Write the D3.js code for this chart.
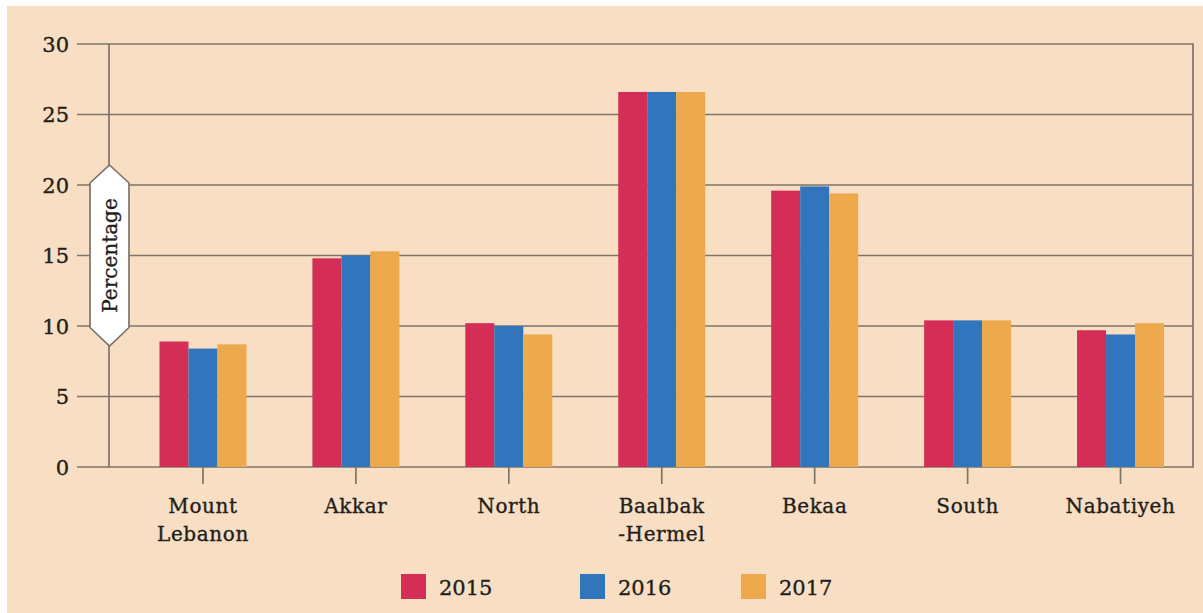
<!DOCTYPE html>
<html>
<head>
<meta charset="utf-8">
<script src="https://cdn.jsdelivr.net/npm/d3@7"></script>
<style>
  html, body { margin: 0; padding: 0; background: #ffffff; }
  svg { display: block; }
  text { font-family: "DejaVu Serif", "Liberation Serif", serif; fill: #221e1b; stroke: #221e1b; stroke-width: 0.35px; }
</style>
</head>
<body>
<svg id="chart" width="1203" height="613"></svg>
<script>
// Share by region, 2015–2017 (percent)
const regions = [["Mount", "Lebanon"], ["Akkar"], ["North"], ["Baalbak", "-Hermel"], ["Bekaa"], ["South"], ["Nabatiyeh"]];
const years = ["2015", "2016", "2017"];
const values2015 = [8.9, 14.8, 10.2, 26.6, 19.6, 10.4, 9.7];
const values2016 = [8.4, 15.0, 10.0, 26.6, 19.9, 10.4, 9.4];
const values2017 = [8.7, 15.3, 9.4, 26.6, 19.4, 10.4, 10.2];
const yTicks = [0, 5, 10, 15, 20, 25, 30];
const colors = ["#d42e57", "#3176bd", "#eda94b"];

const series = [values2015, values2016, values2017];
const keys = regions.map(r => r.join(" "));

const svg = d3.select("#chart");

// panel background
svg.append("rect")
  .attr("x", 7).attr("y", 6).attr("width", 1196).attr("height", 607)
  .attr("fill", "#f8dfc4");

const y = d3.scaleLinear().domain([0, 30]).range([467, 44]);
const x0 = d3.scaleBand().domain(keys).range([126.5, 1197]).padding(0);
const x1 = d3.scaleBand().domain(years).range([0, 87]).padding(0);
const groupOffset = (x0.bandwidth() - 87) / 2;

const gridColor = "#7f7469";

// horizontal grid lines with left tick stubs
svg.append("g").selectAll("line")
  .data(yTicks)
  .join("line")
  .attr("x1", 77).attr("x2", 1193)
  .attr("y1", d => y(d)).attr("y2", d => y(d))
  .attr("stroke", gridColor).attr("stroke-width", 1.7);

// vertical axis and right frame
svg.append("line")
  .attr("x1", 109).attr("x2", 109).attr("y1", y(30)).attr("y2", y(0))
  .attr("stroke", gridColor).attr("stroke-width", 1.7);
svg.append("line")
  .attr("x1", 1193).attr("x2", 1193).attr("y1", y(30) - 0.85).attr("y2", y(0) + 0.85)
  .attr("stroke", gridColor).attr("stroke-width", 1.7);

// y tick labels
svg.append("g").selectAll("text")
  .data(yTicks)
  .join("text")
  .attr("x", 69).attr("y", d => y(d))
  .attr("dy", "0.36em")
  .attr("text-anchor", "end")
  .attr("font-size", 21)
  .text(d => d);

// bars
const groups = svg.append("g").selectAll("g")
  .data(keys)
  .join("g")
  .attr("transform", d => `translate(${x0(d) + groupOffset},0)`);

groups.selectAll("rect")
  .data((d, i) => years.map((yr, j) => ({ yr, v: series[j][i], c: colors[j] })))
  .join("rect")
  .attr("x", d => x1(d.yr))
  .attr("width", x1.bandwidth())
  .attr("y", d => y(d.v))
  .attr("height", d => y(0) - y(d.v))
  .attr("fill", d => d.c);

// x ticks
svg.append("g").selectAll("line")
  .data(keys)
  .join("line")
  .attr("x1", d => x0(d) + x0.bandwidth() / 2)
  .attr("x2", d => x0(d) + x0.bandwidth() / 2)
  .attr("y1", y(0)).attr("y2", y(0) + 17)
  .attr("stroke", gridColor).attr("stroke-width", 1.7);

// x labels (one or two lines)
const xl = svg.append("g").selectAll("text")
  .data(regions)
  .join("text")
  .attr("x", (d, i) => x0(keys[i]) + x0.bandwidth() / 2)
  .attr("y", 513)
  .attr("text-anchor", "middle")
  .attr("font-size", 20)
  .attr("letter-spacing", 0.6);
xl.selectAll("tspan")
  .data(d => d)
  .join("tspan")
  .attr("x", function () { return d3.select(this.parentNode).attr("x"); })
  .attr("dy", (d, i) => i === 0 ? 0 : 28)
  .text(d => d);

// y axis title in a pointed white tag
const cx = 109.5, cy = y(15);
const tag = [[cx, cy - 90.5], [cx + 19.5, cy - 72.5], [cx + 19.5, cy + 72], [cx, cy + 90.5],
             [cx - 19.5, cy + 72], [cx - 19.5, cy - 72.5]];
svg.append("path")
  .attr("d", d3.line()(tag) + "Z")
  .attr("fill", "#ffffff")
  .attr("stroke", gridColor).attr("stroke-width", 1.7);
svg.append("text")
  .attr("transform", `translate(${cx + 7},${cy}) rotate(-90)`)
  .attr("text-anchor", "middle")
  .attr("font-size", 20)
  .text("Percentage");

// legend
const legendX = [401, 580, 741];
const lg = svg.append("g").selectAll("g")
  .data(years)
  .join("g")
  .attr("transform", (d, i) => `translate(${legendX[i]},574)`);
lg.append("rect")
  .attr("width", 25).attr("height", 25)
  .attr("fill", (d, i) => colors[i]);
lg.append("text")
  .attr("x", 38).attr("y", 21)
  .attr("font-size", 21)
  .text(d => d);
</script>
</body>
</html>
